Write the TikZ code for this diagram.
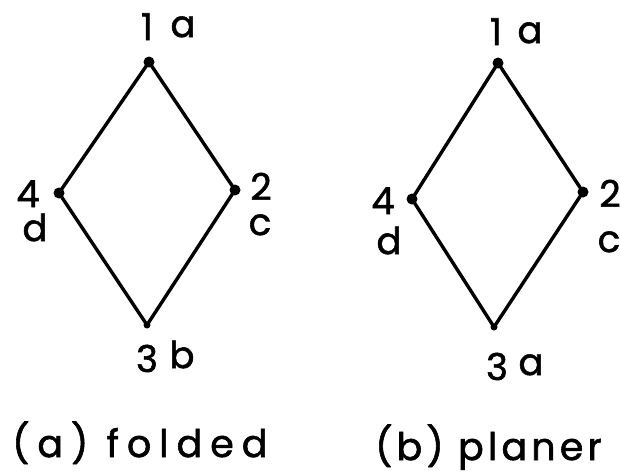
\documentclass[tikz,border=0pt]{standalone}
\usepackage{fontspec}
\setmainfont{Poppins}[FakeBold=1.5]
\tikzset{
  edge/.style={line width=3.4pt, line join=round, line cap=round},
  vtx/.style={circle, fill=black, inner sep=0pt, minimum size=11pt},
  lbl/.style={inner sep=0pt, anchor=base, font=\fontsize{37}{44}\selectfont},
  captext/.style={inner sep=0pt, font=\fontsize{38}{44}\selectfont},
}
\begin{document}
\begin{tikzpicture}[x=1pt,y=-1pt]
\useasboundingbox (0,0) rectangle (620,474);
% left diamond (folded)
\node[vtx] (lt) at (149,62) {};
\node[vtx] (ll) at (59,193) {};
\node[vtx] (lr) at (235,190) {};
\node[vtx, minimum size=7pt] (lb) at (147,325) {};
\draw[edge] (lt.center) -- (lr.center) -- (lb.center) -- (ll.center) -- cycle;
\node[lbl] (l1) at (147,40) {1};
\node[lbl] (la) at (183,37) {a};
\node[lbl] (l4) at (28,207) {4};
\node[lbl] (ld) at (35,241) {d};
\node[lbl] (l2) at (261,200) {2};
\node[lbl] (lc) at (260,235) {c};
\node[lbl] (l3) at (147,372) {3};
\node[lbl] (lbb) at (182,368) {b};
\node[captext, anchor=base west, font=\fontsize{38}{44}\selectfont\addfontfeature{LetterSpace=21}] (capa) at (12,457) {(a) folded};
% right diamond (planer)
\node[vtx] (rt) at (498,63) {};
\node[vtx] (rl) at (412,199) {};
\node[vtx] (rr) at (583,192) {};
\node[vtx, minimum size=7pt] (rb) at (494,327) {};
\draw[edge] (rt.center) -- (rr.center) -- (rb.center) -- (rl.center) -- cycle;
\node[lbl] (r1) at (496,45) {1};
\node[lbl] (ra) at (530,43) {a};
\node[lbl] (r4) at (383,214) {4};
\node[lbl] (rd) at (389,254) {d};
\node[lbl] (r2) at (610,207) {2};
\node[lbl] (rc) at (609,252) {c};
\node[lbl] (r3) at (497,380) {3};
\node[lbl] (ra3) at (531,375) {a};
\node[captext, anchor=base west, font=\fontsize{38}{44}\selectfont\addfontfeature{LetterSpace=11}] (capb) at (375,460) {(b) planer};
\end{tikzpicture}
\end{document}
